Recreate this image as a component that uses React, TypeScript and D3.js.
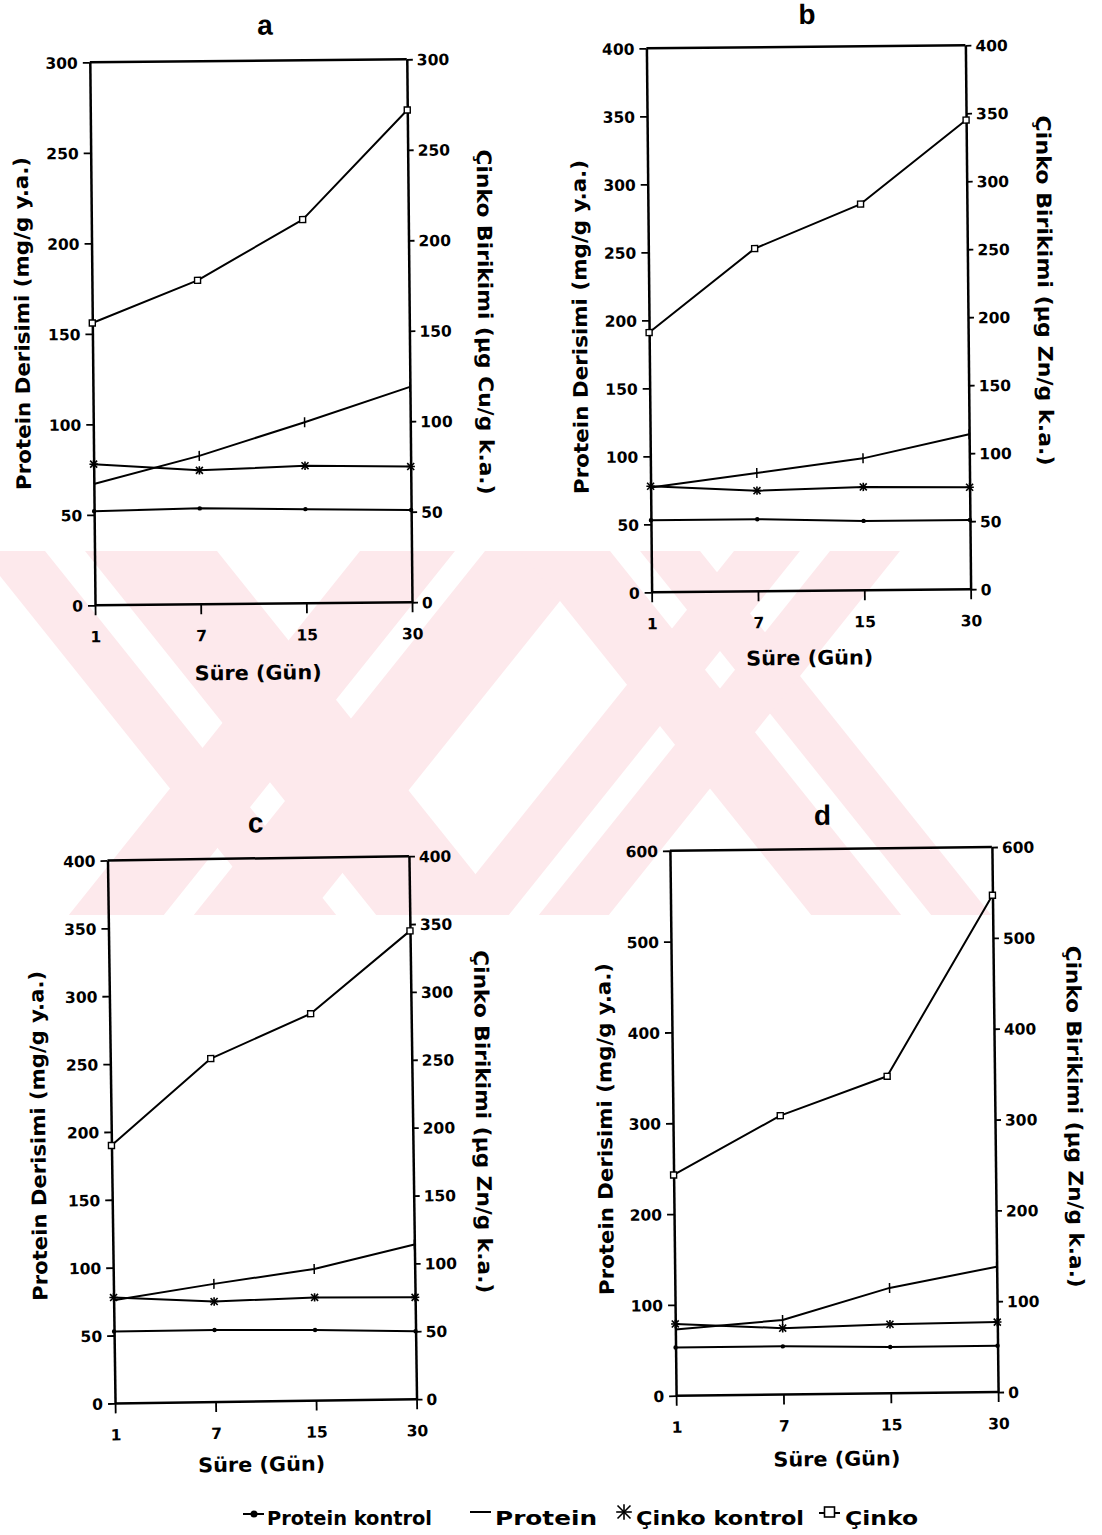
import React, { useEffect, useRef } from "react";
import * as d3 from "d3";

// Sampling days (x axis categories)
const days = ["1", "7", "15", "30"];

// Panel a (Cu)
const proteinKontrolA = [52, 53, 52, 51];
const proteinA = [67, 82, 100, 119];
const cinkoKontrolA = [78, 74, 76, 75];
const cinkoA = [156, 179, 212, 272];

// Panel b
const proteinKontrolB = [53, 53, 51, 51];
const proteinB = [77, 87, 97, 114];
const cinkoKontrolB = [78, 74, 76, 75];
const cinkoB = [191, 252, 284, 345];

// Panel c
const proteinKontrolC = [53, 53, 52, 50];
const proteinC = [76, 87, 97, 114];
const cinkoKontrolC = [78, 74, 76, 75];
const cinkoC = [190, 253, 285, 345];

// Panel d
const proteinKontrolD = [53, 53, 51, 51];
const proteinD = [73, 82, 116, 138];
const cinkoKontrolD = [79, 73, 76, 77];
const cinkoD = [243, 307, 349, 547];

const legendLabels = ["Protein kontrol", "Protein", "Çinko kontrol", "Çinko"];
const leftTitle = "Protein Derisimi (mg/g y.a.)";
const xTitle = "Süre (Gün)";
const rightTitleCu = "Çinko Birikimi (µg Cu/g k.a.)";
const rightTitleZn = "Çinko Birikimi (µg Zn/g k.a.)";

const FONT = "'DejaVu Sans', sans-serif";
const TITLE_FONT = "'Liberation Sans', Arial, sans-serif";

type Layout = {
  title: string;
  cx: number; cy: number; w: number; h: number; angle: number;
  yMax: number; yStep: number;
  rightTitle: string;
  series: { pk: number[]; p: number[]; ck: number[]; c: number[] };
  titleDx: number; titleDy: number;
  xLabDx: number; xLabDy: number;
  leftDx: number; leftDy: number; leftLen: number;
  rightDx: number; rightDy: number; rightLen: number;
};

const panels: Layout[] = [
  {
    title: "a", cx: 250.9, cy: 332.3, w: 317, h: 543, angle: -0.55,
    yMax: 300, yStep: 50, rightTitle: rightTitleCu,
    series: { pk: proteinKontrolA, p: proteinA, ck: cinkoKontrolA, c: cinkoA },
    titleDx: 17, titleDy: -26, xLabDx: 4, xLabDy: 76,
    leftDx: -70, leftDy: -11, leftLen: 333, rightDx: 76, rightDy: -8, rightLen: 345,
  },
  {
    title: "b", cx: 808.5, cy: 318.8, w: 319, h: 544, angle: -0.55,
    yMax: 400, yStep: 50, rightTitle: rightTitleZn,
    series: { pk: proteinKontrolB, p: proteinB, ck: cinkoKontrolB, c: cinkoB },
    titleDx: 1.5, titleDy: -23, xLabDx: -2, xLabDy: 74,
    leftDx: -69, leftDy: 6, leftLen: 334, rightDx: 77, rightDy: -26, rightLen: 350,
  },
  {
    title: "c", cx: 262, cy: 1129.8, w: 301.5, h: 543, angle: -0.8,
    yMax: 400, yStep: 50, rightTitle: rightTitleZn,
    series: { pk: proteinKontrolC, p: proteinC, ck: cinkoKontrolC, c: cinkoC },
    titleDx: -2, titleDy: -26, xLabDx: -5, xLabDy: 70,
    leftDx: -73, leftDy: 3, leftLen: 330, rightDx: 70.5, rightDy: -5, rightLen: 343,
  },
  {
    title: "d", cx: 834, cy: 1121.4, w: 322, h: 545, angle: -0.65,
    yMax: 600, yStep: 100, rightTitle: rightTitleZn,
    series: { pk: proteinKontrolD, p: proteinD, ck: cinkoKontrolD, c: cinkoD },
    titleDx: -8, titleDy: -24, xLabDx: -1, xLabDy: 72,
    leftDx: -68, leftDy: 5, leftLen: 332, rightDx: 80, rightDy: -2, rightLen: 342,
  },
];

// Pale background emblem: striped diagonal bands clipped to a horizontal strip
const emblemTop = 551;
const emblemBottom = 915;
const emblemSlope = 0.8;
const emblemBands: { x0: number; x1: number; dir: number }[] = [
  { x0: -20, x1: 45, dir: 1 },
  { x0: 85, x1: 217, dir: 1 },
  { x0: 360, x1: 455, dir: -1 },
  { x0: 485, x1: 600, dir: -1 },
  { x0: 520, x1: 610, dir: 1 },
  { x0: 640, x1: 700, dir: 1 },
  { x0: 734, x1: 800, dir: -1 },
  { x0: 830, x1: 900, dir: -1 },
];

function asterisk(g: any, x: number, y: number, r: number, sw: number) {
  const a = g.append("g").attr("stroke", "#000").attr("stroke-width", sw);
  a.append("line").attr("x1", x - r).attr("y1", y - r).attr("x2", x + r).attr("y2", y + r);
  a.append("line").attr("x1", x - r).attr("y1", y + r).attr("x2", x + r).attr("y2", y - r);
  a.append("line").attr("x1", x).attr("y1", y - r * 1.2).attr("x2", x).attr("y2", y + r * 1.2);
  a.append("line").attr("x1", x - r * 1.2).attr("y1", y).attr("x2", x + r * 1.2).attr("y2", y);
}

export default function App() {
  const ref = useRef<SVGSVGElement | null>(null);

  useEffect(() => {
    document.body.style.margin = "0";
    const svg = d3.select(ref.current!);
    svg.selectAll("*").remove();

    svg.append("rect").attr("width", 1102).attr("height", 1535).attr("fill", "#fff");

    // emblem
    const defs = svg.append("defs");
    defs.append("clipPath").attr("id", "emblem-clip")
      .append("rect").attr("x", 0).attr("y", emblemTop).attr("width", 1102).attr("height", emblemBottom - emblemTop);
    const em = svg.append("g").attr("clip-path", "url(#emblem-clip)");
    const hgt = emblemBottom - emblemTop;
    emblemBands.forEach((b) => {
      const s = b.dir * hgt * emblemSlope;
      em.append("polygon")
        .attr("points", `${b.x0},${emblemTop} ${b.x1},${emblemTop} ${b.x1 + s},${emblemBottom} ${b.x0 + s},${emblemBottom}`)
        .attr("fill", "#fde9ec");
    });

    panels.forEach((p) => {
      const L = p.cx - p.w / 2, R = p.cx + p.w / 2, T = p.cy - p.h / 2, B = p.cy + p.h / 2;
      const g = svg.append("g").attr("transform", `rotate(${p.angle} ${p.cx} ${p.cy})`);

      const x = d3.scalePoint<string>().domain(days).range([L, R]);
      const yL = d3.scaleLinear().domain([0, p.yMax]).range([B, T]);
      const yR = d3.scaleLinear().domain([0, p.yMax]).range([B, T]);
      const ticks = d3.range(0, p.yMax + 1, p.yStep);

      // top frame line
      g.append("line").attr("x1", L).attr("x2", R).attr("y1", T).attr("y2", T)
        .attr("stroke", "#000").attr("stroke-width", 2.5);

      const styleAxis = (s: any) => {
        s.select(".domain").attr("stroke", "#000").attr("stroke-width", 2.5);
        s.selectAll(".tick line").attr("stroke", "#000").attr("stroke-width", 1.8);
        s.selectAll(".tick text").attr("fill", "#000")
          .attr("font-family", FONT).attr("font-weight", "bold").attr("font-size", 15.5);
      };

      g.append("g").attr("transform", `translate(${L},0)`)
        .call(d3.axisLeft(yL).tickValues(ticks).tickSize(7).tickSizeOuter(0).tickPadding(5).tickFormat(d3.format("d")))
        .call(styleAxis)
        .call((s: any) => s.selectAll(".tick text").attr("dy", "0.36em"));

      g.append("g").attr("transform", `translate(${R},0)`)
        .call(d3.axisRight(yR).tickValues(ticks).tickSize(6).tickSizeOuter(0).tickPadding(4).tickFormat(d3.format("d")))
        .call(styleAxis)
        .call((s: any) => s.selectAll(".tick text").attr("dy", "0.36em"));

      g.append("g").attr("transform", `translate(0,${B})`)
        .call(d3.axisBottom(x).tickSize(10).tickSizeOuter(0).tickPadding(0))
        .call(styleAxis)
        .call((s: any) => s.select(".domain").attr("d", `M${L},0H${R}`))
        .call((s: any) => s.selectAll(".tick text").attr("y", 37).attr("dy", 0));

      // series
      const line = (ys: number[], sc: d3.ScaleLinear<number, number>) =>
        d3.line<number>().x((_, i) => x(days[i])!).y((v) => sc(v))(ys);

      const { pk, p: pr, ck, c } = p.series;
      [pk, pr, ck].forEach((ys) => {
        g.append("path").attr("d", line(ys, yL)).attr("fill", "none")
          .attr("stroke", "#000").attr("stroke-width", 2).attr("stroke-linejoin", "round");
      });
      g.append("path").attr("d", line(c, yR)).attr("fill", "none")
        .attr("stroke", "#000").attr("stroke-width", 2).attr("stroke-linejoin", "round");

      // markers
      pk.forEach((v, i) => {
        g.append("circle").attr("cx", x(days[i])!).attr("cy", yL(v)).attr("r", 2.2).attr("fill", "#000");
      });
      pr.forEach((v, i) => {
        if (i === 0) return;
        g.append("line").attr("x1", x(days[i])!).attr("x2", x(days[i])!)
          .attr("y1", yL(v) - 5).attr("y2", yL(v) + 5).attr("stroke", "#000").attr("stroke-width", 1.5);
      });
      ck.forEach((v, i) => {
        asterisk(g, x(days[i])!, yL(v), 3.5, 1.6);
      });
      c.forEach((v, i) => {
        g.append("rect").attr("x", x(days[i])! - 3).attr("y", yR(v) - 3).attr("width", 6).attr("height", 6)
          .attr("fill", "#fff").attr("stroke", "#000").attr("stroke-width", 1.4);
      });

      // titles
      g.append("text").attr("x", p.cx + p.titleDx).attr("y", T + p.titleDy)
        .attr("text-anchor", "middle").attr("font-family", TITLE_FONT).attr("font-weight", "bold")
        .attr("font-size", 28).text(p.title);

      g.append("text").attr("x", p.cx + p.xLabDx).attr("y", B + p.xLabDy)
        .attr("text-anchor", "middle").attr("font-family", FONT).attr("font-weight", "bold")
        .attr("font-size", 20).attr("textLength", 127).attr("lengthAdjust", "spacingAndGlyphs").text(xTitle);

      g.append("text")
        .attr("transform", `translate(${L + p.leftDx},${p.cy + p.leftDy}) rotate(-90)`)
        .attr("text-anchor", "middle").attr("dominant-baseline", "central")
        .attr("font-family", FONT).attr("font-weight", "bold").attr("font-size", 20)
        .attr("textLength", p.leftLen).attr("lengthAdjust", "spacingAndGlyphs").text(leftTitle);

      g.append("text")
        .attr("transform", `translate(${R + p.rightDx},${p.cy + p.rightDy}) rotate(90)`)
        .attr("text-anchor", "middle").attr("dominant-baseline", "central")
        .attr("font-family", FONT).attr("font-weight", "bold").attr("font-size", 20)
        .attr("textLength", p.rightLen).attr("lengthAdjust", "spacingAndGlyphs").text(p.rightTitle);
    });

    // legend
    const lg = svg.append("g");
    const ly = 1525;
    const txt = (xx: number, len: number, s: string) =>
      lg.append("text").attr("x", xx).attr("y", ly).attr("font-family", FONT).attr("font-weight", "bold")
        .attr("font-size", 19).attr("textLength", len).attr("lengthAdjust", "spacingAndGlyphs").text(s);

    lg.append("line").attr("x1", 243).attr("x2", 264).attr("y1", 1514).attr("y2", 1514).attr("stroke", "#000").attr("stroke-width", 2);
    lg.append("circle").attr("cx", 254).attr("cy", 1514).attr("r", 3.5).attr("fill", "#000");
    txt(267, 165, legendLabels[0]);

    lg.append("line").attr("x1", 470).attr("x2", 491).attr("y1", 1512).attr("y2", 1512).attr("stroke", "#000").attr("stroke-width", 2);
    txt(495, 102, legendLabels[1]);

    asterisk(lg, 624, 1512, 6.5, 1.6);
    txt(636, 168, legendLabels[2]);

    lg.append("line").attr("x1", 819).attr("x2", 840).attr("y1", 1513).attr("y2", 1513).attr("stroke", "#000").attr("stroke-width", 2);
    lg.append("rect").attr("x", 824.5).attr("y", 1507).attr("width", 10).attr("height", 10)
      .attr("fill", "#fff").attr("stroke", "#000").attr("stroke-width", 1.6);
    txt(845, 73, legendLabels[3]);
  }, []);

  return <svg ref={ref} width={1102} height={1535} style={{ display: "block" }} />;
}
